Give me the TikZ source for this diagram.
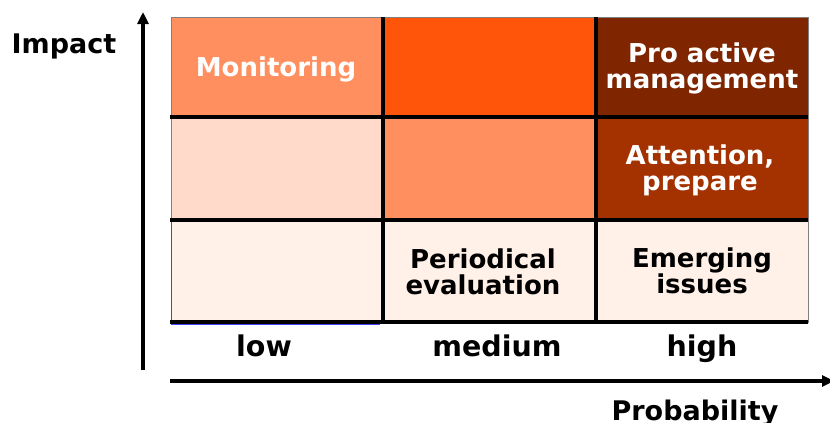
\documentclass[tikz,border=0pt]{standalone}
\usepackage{fontspec}
\setmainfont{DejaVu Sans}
\usetikzlibrary{arrows.meta}
\definecolor{cA}{HTML}{FF8F5F}
\definecolor{cB}{HTML}{FF550A}
\definecolor{cC}{HTML}{7F2600}
\definecolor{cD}{HTML}{FFDACB}
\definecolor{cE}{HTML}{A33200}
\definecolor{cF}{HTML}{FFF0E8}
\definecolor{edge}{HTML}{808080}
\definecolor{blueedge}{HTML}{4040FF}
\begin{document}
\begin{tikzpicture}[x=1pt,y=-1pt,
  cellbox/.style={draw=edge, line width=0.7pt},
  gridline/.style={line width=3.6pt, black},
  axisline/.style={line width=3.4pt, black, -{Triangle[length=12pt,width=11pt]}},
  celltxt/.style={font=\fontsize{26}{26}\selectfont\bfseries, align=center, inner sep=0pt},
  axistxt/.style={font=\fontsize{27}{27}\selectfont\bfseries, inner sep=0pt, anchor=base},
  leveltxt/.style={font=\fontsize{28.5}{28.5}\selectfont\bfseries, inner sep=0pt, anchor=base}]
\useasboundingbox (0,0) rectangle (830,423);
% cells
\path[cellbox, fill=cA] (171,17) rectangle (383,117);
\path[cellbox, fill=cB] (383,17) rectangle (596,117);
\path[cellbox, fill=cC] (596,17) rectangle (808,117);
\path[cellbox, fill=cD] (171,117) rectangle (383,220);
\path[cellbox, fill=cA] (383,117) rectangle (596,220);
\path[cellbox, fill=cE] (596,117) rectangle (808,220);
\path[cellbox, fill=cF] (171,220) rectangle (383,322);
\path[cellbox, fill=cF] (383,220) rectangle (596,322);
\path[cellbox, fill=cF] (596,220) rectangle (808,322);
% blue edges of bottom-left cell
\draw[blueedge, line width=0.8pt] (171,220) -- (171,322);
\draw[blueedge, line width=1pt] (171,324.5) -- (380,324.5);
% grid lines
\draw[gridline] (170,117) -- (808,117);
\draw[gridline] (170,220) -- (808,220);
\draw[gridline] (170,322) -- (808,322);
\draw[gridline] (383,17) -- (383,323);
\draw[gridline] (596,17) -- (596,323);
% axes
\coordinate (ybot) at (143,370);
\coordinate (ytop) at (143,12);
\coordinate (xleft) at (170,381);
\coordinate (xright) at (834,381);
\draw[axisline] (ybot) -- (ytop);
\draw[axisline] (xleft) -- (xright);
% cell texts
\node[celltxt, text=white, anchor=base] (mon) at (276,76) {Monitoring};
\node[celltxt, text=white] (pro) at (702,68.5) {Pro active\\management};
\node[celltxt, text=white] (att) at (700,170.5) {Attention,\\prepare};
\node[celltxt] (per) at (483,271.6) {Periodical\\evaluation};
\node[celltxt] (eme) at (702,270.5) {Emerging\\issues};
% axis labels
\node[axistxt] (imp) at (64,53) {Impact};
\node[axistxt] (prob) at (695,420) {Probability};
\node[leveltxt] (low) at (264,356) {low};
\node[leveltxt] (med) at (497,356) {medium};
\node[leveltxt] (high) at (702,356) {high};
\end{tikzpicture}
\end{document}
